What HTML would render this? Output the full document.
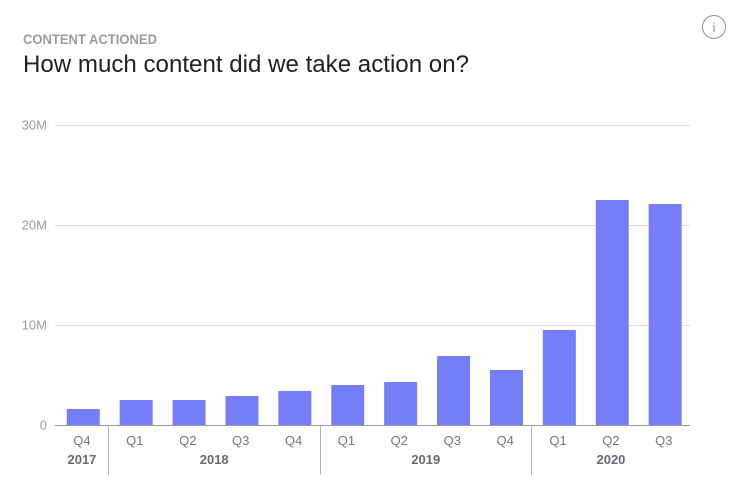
<!DOCTYPE html>
<html>
<head>
<meta charset="utf-8">
<style>
html,body{margin:0;padding:0;background:#fff;width:741px;height:493px;overflow:hidden}
svg{display:block;font-family:"Liberation Sans",sans-serif}
</style>
</head>
<body>
<svg id="chart" width="741" height="493" viewBox="0 0 741 493" xmlns="http://www.w3.org/2000/svg">
<text x="23" y="44" font-size="14" font-weight="700" fill="#9a9aa4" textLength="134" lengthAdjust="spacingAndGlyphs">CONTENT ACTIONED</text>
<text x="23" y="72" font-size="24" fill="#202124" textLength="446" lengthAdjust="spacingAndGlyphs">How much content did we take action on?</text>
<g>
<circle cx="714" cy="27" r="11.5" fill="#fff" stroke="#8f8f98" stroke-width="1"/>
<text x="714" y="32" font-size="13" text-anchor="middle" fill="#8f8f98">i</text>
</g>
<g id="grid"></g>
<g id="bars"></g>
<g id="xaxis"></g>
</svg>
<script>
const quarters = ["Q4","Q1","Q2","Q3","Q4","Q1","Q2","Q3","Q4","Q1","Q2","Q3"];
const contentActioned = [1.6,2.5,2.5,2.9,3.4,4.0,4.3,6.9,5.5,9.5,22.5,22.1];
const yearLabels = ["2017","2018","2019","2020"];
const yearQuarterCounts = [1,4,4,3];
const yTicks = [0,10,20,30];
const yTickLabels = ["0","10M","20M","30M"];

const NS = "http://www.w3.org/2000/svg";
const plotLeft = 55, plotRight = 690, bandStart = 56.8, bandWidth = 52.9, barWidth = 33;
const yZero = 425.5, pxPerUnit = 10, barBase = 425, labelShift = 1.3;
const xCenter = i => bandStart + bandWidth * (i + 0.5);
const yPos = v => yZero - v * pxPerUnit;
const barTop = v => barBase - v * pxPerUnit;

function make(tag, attrs, parent, text) {
  const el = document.createElementNS(NS, tag);
  for (const k in attrs) el.setAttribute(k, attrs[k]);
  if (text !== undefined) el.textContent = text;
  parent.appendChild(el);
  return el;
}

const grid = document.getElementById("grid");
yTicks.forEach((t, i) => {
  if (t !== 0) {
    const line = make("line", {x1: plotLeft, x2: plotRight, y1: yPos(t), y2: yPos(t), stroke: "#dcdcdf", "stroke-width": 1}, grid);
    
    
  }
  const label = make("text", {x: 47, y: yPos(t) + 4, "text-anchor": "end", "font-size": 13, fill: "#9a9aa4"}, grid, yTickLabels[i]);
  
  
});

const bars = document.getElementById("bars");
contentActioned.forEach((v, i) => {
  const bar = make("rect", {x: xCenter(i) - barWidth / 2, y: barTop(v), width: barWidth, height: barBase - barTop(v), fill: "#767ef7"}, bars);
  
  
});

const xaxis = document.getElementById("xaxis");
const axisLine = make("line", {x1: plotLeft, x2: plotRight, y1: yZero, y2: yZero, stroke: "#9a9aa4", "stroke-width": 1}, xaxis);



quarters.forEach((q, i) => {
  const label = make("text", {x: xCenter(i) - labelShift, y: 445, "text-anchor": "middle", "font-size": 13, fill: "#75757f"}, xaxis, q);
  
  
});

let startIndex = 0;
yearLabels.forEach((year, i) => {
  const count = yearQuarterCounts[i];
  const mid = startIndex + (count - 1) / 2;
  const label = make("text", {x: xCenter(mid) - labelShift, y: 464, "text-anchor": "middle", "font-size": 13, "font-weight": 700, fill: "#686870"}, xaxis, year);
  
  
  startIndex += count;
  if (i < yearLabels.length - 1) {
    const sepX = Math.floor(xCenter(startIndex - 1) + bandWidth / 2) - 0.5;
    const sep = make("line", {x1: sepX, x2: sepX, y1: yZero, y2: 475, stroke: "#b0b0b6", "stroke-width": 1}, xaxis);
    
    
  }
});
</script>
</body>
</html>
